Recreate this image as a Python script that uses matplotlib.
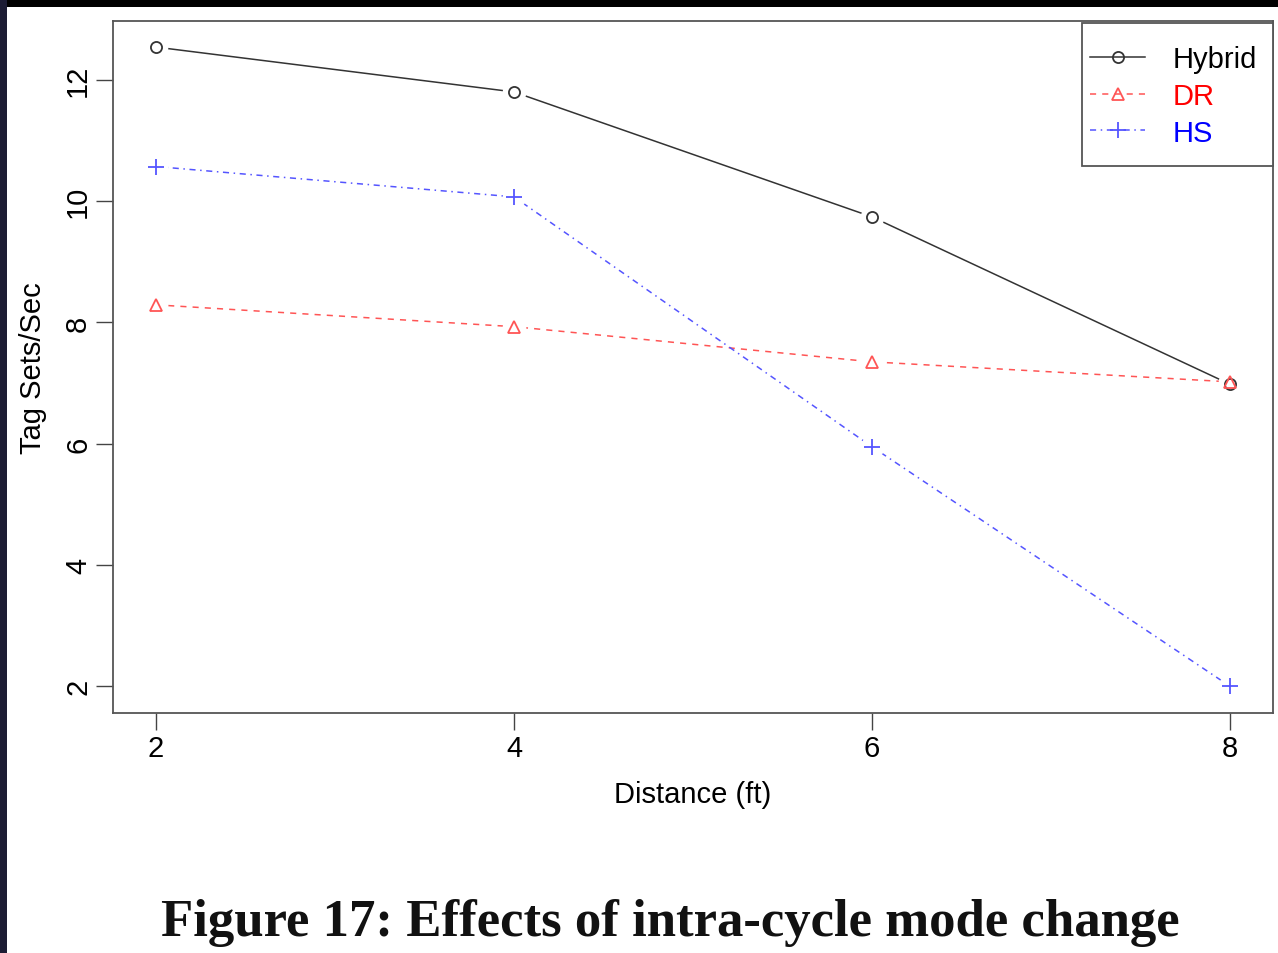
import matplotlib
matplotlib.use("Agg")
import matplotlib.pyplot as plt
from matplotlib.patches import Rectangle

# Data
distance = [2, 4, 6, 8]
hybrid = [12.54, 11.80, 9.74, 6.98]
dr = [8.29, 7.93, 7.35, 7.02]
hs = [10.57, 10.07, 5.95, 2.00]

series_names = ["Hybrid", "DR", "HS"]
x_ticks = [2, 4, 6, 8]
y_ticks = [2, 4, 6, 8, 10, 12]

plt.rcParams["font.family"] = ["Liberation Sans", "DejaVu Sans"]

fig = plt.figure(figsize=(12.78, 9.54), dpi=100)
fig.patch.set_facecolor("white")

# dark screenshot borders (top and left)
fig.patches.append(Rectangle((0, 1 - 8 / 954), 1, 8 / 954, transform=fig.transFigure,
                             facecolor="black", edgecolor="none", zorder=0))
fig.patches.append(Rectangle((0, 0), 7 / 1278, 1, transform=fig.transFigure,
                             facecolor="#1c1c34", edgecolor="none", zorder=0))

ax = fig.add_axes([113 / 1278, 1 - 714 / 954, 1160 / 1278, 692 / 954])

styles = [
    dict(color="#333333", ls="-", marker="o", ms=8, tc="black"),
    dict(color="#ff5555", ls=(0, (4, 4)), marker="^", ms=9, tc="red"),
    dict(color="#5555ff", ls=(0, (4, 3, 1, 3)), marker="+", ms=12, tc="blue"),
]

handles = []
for name, ys, st in zip(series_names, [hybrid, dr, hs], styles):
    ax.plot(distance, ys, color=st["color"], ls=st["ls"], lw=1.1, zorder=2)
    # white gap round each point, like R type="b"
    ax.plot(distance, ys, ls="none", marker="o", ms=16, mfc="white",
            mec="white", zorder=3)
    ax.plot(distance, ys, ls="none", marker=st["marker"], ms=st["ms"],
            mfc="none", mec=st["color"], mew=1.3, zorder=4)
    handles.append(ax.plot([], [], color=st["color"], ls=st["ls"], lw=1.1,
                           marker=st["marker"], ms=st["ms"], mfc="none",
                           mec=st["color"], mew=1.3)[0])

ax.set_xlim(1.76, 8.24)
ax.set_ylim(1.56, 12.97)
ax.set_xticks(x_ticks)
ax.set_yticks(y_ticks)
ax.set_xticklabels([str(v) for v in x_ticks], fontsize=21)
ax.set_yticklabels([str(v) for v in y_ticks], fontsize=21, rotation=90, va="center")
ax.tick_params(length=12, width=1.0, color="#444444", pad=3)
for s in ax.spines.values():
    s.set_color("#555555")
    s.set_linewidth(1.3)

ax.set_xlabel("Distance (ft)", fontsize=21, labelpad=13)
ax.set_ylabel("Tag Sets/Sec", fontsize=21, labelpad=12.5)

# legend box drawn separately so padding matches the original
ax.add_patch(Rectangle((0.8353, 0.7905), 0.1647, 0.2065, transform=ax.transAxes,
                       facecolor="white", edgecolor="#555555", lw=1.3,
                       clip_on=False, zorder=5))
leg = ax.legend(handles, series_names, loc="upper left", fontsize=21,
                frameon=False, borderaxespad=0, borderpad=0,
                handlelength=1.9, labelspacing=0.3, handletextpad=0.95,
                bbox_to_anchor=(0.8422, 0.9653))
leg.set_zorder(6)
for txt, st in zip(leg.get_texts(), styles):
    txt.set_color(st["tc"])

fig.text(670 / 1278, 1 - 923 / 954, "Figure 17: Effects of intra-cycle mode change",
         ha="center", va="center", fontsize=38, fontweight="bold",
         family=["Liberation Serif", "DejaVu Serif"], color="#111111")

fig.savefig("out.png", dpi=100)
